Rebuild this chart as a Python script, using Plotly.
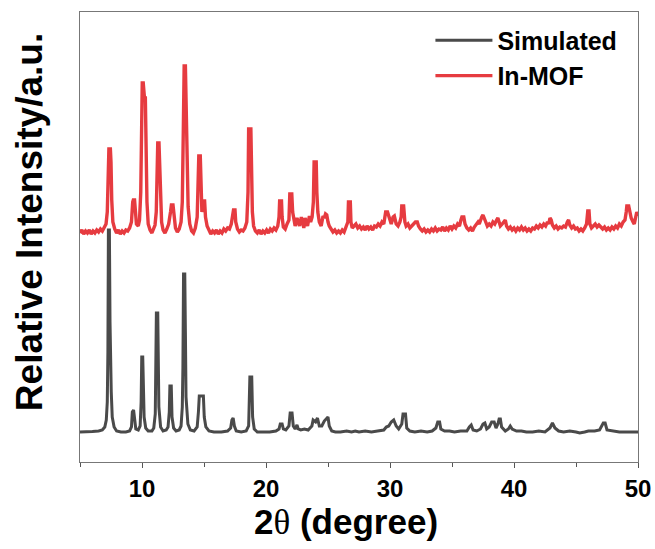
import plotly.graph_objects as go

# ---- data (2-theta in degrees, intensity in a.u. incl. vertical offset) ----
sim_points = [
    (5.0,30),(5.5,30),(6.0,30.5),(6.5,31),(6.8,32),(7.0,35),(7.12,42),(7.2,60),(7.25,110),(7.29,232),
    (7.37,232),(7.42,140),(7.47,98),(7.52,70),(7.6,45),(7.75,35),(7.95,31),(8.3,30),(8.7,30),(9.0,31),
    (9.15,35),(9.22,50),(9.32,52),(9.4,40),(9.5,33),(9.7,32),(9.85,36),(9.93,60),(9.98,105),(10.06,105),
    (10.1,70),(10.17,45),(10.3,34),(10.5,31),(10.8,31),(10.95,34),(11.07,48),(11.12,90),(11.16,149),(11.27,149),
    (11.3,100),(11.36,55),(11.5,35),(11.7,31),(11.95,32),(12.1,35),(12.2,50),(12.25,76),(12.36,76),(12.42,45),
    (12.55,34),(12.75,31),(13.0,32),(13.15,36),(13.25,55),(13.3,95),(13.35,188),(13.45,188),(13.5,130),(13.55,65),
    (13.7,38),(13.9,32),(14.2,31),(14.45,35),(14.55,50),(14.62,66),(14.95,66),(15.02,45),(15.15,35),(15.4,31),
    (15.8,30),(16.4,30),(16.9,31),(17.15,34),(17.25,42),(17.35,44),(17.45,36),(17.6,31),(18.0,30),(18.4,31),
    (18.6,36),(18.7,85),(18.85,85),(18.92,45),(19.05,33),(19.3,30),(19.8,30),(20.3,30),(20.8,31),(21.05,33),
    (21.15,38),(21.3,38),(21.4,33),(21.6,32),(21.85,36),(21.95,49),(22.1,49),(22.2,36),(22.35,33),(22.5,37),
    (22.6,33),(22.8,32),(23.1,33),(23.4,32),(23.7,36),(23.8,42),(24.0,40),(24.15,44),(24.3,36),(24.5,36),
    (24.7,41),(24.85,43),(25.0,45),(25.1,36),(25.3,31),(25.6,30),(26.0,30),(26.5,31),(26.9,30),(27.2,31),
    (27.5,30),(28.0,31),(28.5,30),(29.0,31),(29.5,32),(29.7,35),(29.9,36),(30.1,40),(30.3,42),(30.5,36),
    (30.7,33),(30.95,38),(31.05,48),(31.25,48),(31.35,34),(31.6,31),(32.0,30),(32.5,31),(33.0,30),(33.4,31),
    (33.7,34),(33.85,40),(34.0,40),(34.1,33),(34.4,31),(34.8,31),(35.2,30),(35.7,31),(36.2,31),(36.4,35),
    (36.55,37),(36.7,32),(37.0,31),(37.3,33),(37.5,38),(37.65,39),(37.8,33),(38.0,35),(38.2,40),(38.4,40),
    (38.55,34),(38.7,38),(38.8,43),(38.9,43),(39.0,35),(39.3,31),(39.55,33),(39.7,36),(39.85,33),(40.2,31),
    (40.6,31),(41.0,30),(41.5,30),(42.0,31),(42.5,30),(42.9,34),(43.1,39),(43.3,34),(43.6,31),(44.0,30),
    (44.5,31),(45.0,30),(45.3,29),(45.7,30),(46.0,31),(46.5,31),(46.9,32),(47.2,39),(47.35,39),(47.5,32),
    (48.0,31),(48.5,30),(49.0,30),(49.5,30),(50.0,30),
]

mof_points = [
    (5.0,229),(5.15,232),(5.3,228),(5.45,231),(5.6,229),(5.75,232),(5.9,228),(6.05,231),(6.2,229),(6.35,232),
    (6.5,230),(6.65,233),(6.8,231),(6.95,235),(7.1,238),(7.2,250),(7.28,300),(7.33,313),(7.45,313),(7.5,300),
    (7.56,262),(7.65,240),(7.8,233),(7.95,229),(8.1,232),(8.25,228),(8.4,231),(8.55,229),(8.7,232),(8.85,231),
    (9.0,234),(9.15,240),(9.25,260),(9.3,262),(9.4,262),(9.45,250),(9.55,238),(9.7,236),(9.8,242),(9.9,270),
    (9.97,350),(10.02,379),(10.1,379),(10.14,370),(10.2,364),(10.27,364),(10.32,320),(10.4,260),(10.5,238),(10.65,232),
    (10.8,229),(10.95,233),(11.05,237),(11.15,250),(11.22,300),(11.27,319),(11.37,319),(11.42,300),(11.5,265),(11.58,240),
    (11.7,232),(11.85,229),(12.0,233),(12.15,238),(12.3,250),(12.37,257),(12.5,257),(12.58,245),(12.7,234),(12.85,230),
    (13.0,233),(13.15,240),(13.25,260),(13.33,330),(13.4,396),(13.5,396),(13.55,360),(13.62,300),(13.72,255),(13.85,238),
    (14.0,231),(14.15,229),(14.3,234),(14.45,245),(14.53,290),(14.58,306),(14.7,306),(14.76,270),(14.83,250),(14.9,255),
    (14.97,261),(15.05,261),(15.12,245),(15.25,236),(15.4,231),(15.55,228),(15.7,231),(15.85,229),(16.0,232),(16.15,228),
    (16.3,231),(16.45,229),(16.6,233),(16.75,231),(16.9,234),(17.05,233),(17.2,238),(17.32,250),(17.38,252),(17.5,252),
    (17.56,240),(17.7,233),(17.85,230),(18.0,232),(18.15,231),(18.3,234),(18.45,240),(18.55,270),(18.6,333),(18.78,333),
    (18.83,300),(18.9,250),(19.0,236),(19.15,231),(19.3,229),(19.45,232),(19.6,228),(19.75,231),(19.9,229),(20.05,232),
    (20.2,229),(20.35,233),(20.5,231),(20.65,234),(20.8,232),(20.95,236),(21.05,245),(21.1,261),(21.25,261),(21.3,245),
    (21.4,235),(21.55,233),(21.7,238),(21.85,242),(21.92,268),(22.08,268),(22.15,250),(22.25,240),(22.35,236),(22.5,244),
    (22.6,240),(22.7,236),(22.85,245),(22.95,238),(23.05,234),(23.15,244),(23.25,240),(23.35,236),(23.5,246),(23.6,240),
    (23.72,245),(23.82,260),(23.88,300),(24.05,300),(24.1,270),(24.18,250),(24.3,240),(24.45,236),(24.6,246),(24.7,244),
    (24.8,248),(24.9,247),(25.0,240),(25.1,236),(25.25,233),(25.4,230),(25.55,232),(25.7,229),(25.85,231),(26.0,229),
    (26.15,232),(26.3,230),(26.45,235),(26.6,240),(26.65,260),(26.8,260),(26.85,240),(26.95,234),(27.1,236),(27.25,238),
    (27.4,234),(27.55,236),(27.7,233),(27.85,235),(28.0,232),(28.15,236),(28.3,233),(28.45,235),(28.6,232),(28.75,236),
    (28.9,235),(29.05,238),(29.2,236),(29.35,240),(29.5,238),(29.6,245),(29.65,250),(29.8,250),(29.9,246),(30.0,240),
    (30.1,238),(30.25,245),(30.35,246),(30.5,238),(30.65,236),(30.8,240),(30.9,245),(30.95,256),(31.1,256),(31.2,240),
    (31.3,236),(31.45,238),(31.6,234),(31.75,236),(31.9,238),(32.05,240),(32.2,240),(32.3,236),(32.45,233),(32.6,231),
    (32.75,233),(32.9,230),(33.05,232),(33.2,230),(33.35,233),(33.5,231),(33.65,234),(33.8,231),(33.95,233),(34.1,232),
    (34.25,235),(34.4,231),(34.55,234),(34.7,232),(34.85,236),(35.0,233),(35.15,236),(35.3,234),(35.45,238),(35.6,236),
    (35.72,242),(35.8,245),(35.95,245),(36.05,238),(36.2,234),(36.35,232),(36.5,234),(36.65,231),(36.8,235),(36.95,237),
    (37.1,240),(37.2,238),(37.3,243),(37.4,245),(37.5,247),(37.6,244),(37.7,240),(37.85,236),(38.0,238),(38.15,236),
    (38.3,240),(38.45,238),(38.6,242),(38.7,244),(38.8,240),(38.9,236),(39.05,238),(39.2,240),(39.3,242),(39.4,236),
    (39.55,233),(39.7,235),(39.85,232),(40.0,234),(40.15,231),(40.3,234),(40.45,232),(40.6,235),(40.75,232),(40.9,234),
    (41.05,231),(41.2,233),(41.35,231),(41.5,234),(41.65,233),(41.8,236),(41.95,234),(42.1,237),(42.25,235),(42.4,238),
    (42.55,236),(42.7,240),(42.8,238),(42.9,244),(43.0,242),(43.1,237),(43.25,234),(43.4,236),(43.55,233),(43.7,235),
    (43.85,234),(44.0,236),(44.15,235),(44.3,240),(44.4,242),(44.5,237),(44.65,234),(44.8,236),(44.95,233),(45.1,234),
    (45.25,231),(45.4,233),(45.55,231),(45.7,234),(45.85,238),(45.95,251),(46.05,251),(46.12,238),(46.25,234),(46.4,236),
    (46.55,238),(46.7,235),(46.85,237),(47.0,235),(47.15,233),(47.3,235),(47.45,232),(47.6,234),(47.75,232),(47.9,235),
    (48.05,233),(48.2,236),(48.35,234),(48.5,238),(48.65,236),(48.8,240),(48.95,242),(49.05,250),(49.1,256),(49.25,256),
    (49.35,248),(49.45,244),(49.6,240),(49.7,238),(49.8,244),(49.9,250),(50.0,246),
]

sim_two_theta = [p[0] for p in sim_points]
sim_intensity = [p[1] for p in sim_points]
mof_two_theta = [p[0] for p in mof_points]
mof_intensity = [p[1] for p in mof_points]

series_names = ["Simulated", "In-MOF"]
series_colors = ["#4a4a4a", "#e63b40"]
x_tick_values = [10, 20, 30, 40, 50]

FONT = "Liberation Sans, Arial, sans-serif"

fig = go.Figure()
fig.add_trace(go.Scatter(x=sim_two_theta, y=sim_intensity, mode="lines", name=series_names[0],
                         legendgroup="a", line=dict(color=series_colors[0], width=3)))
fig.add_trace(go.Scatter(x=mof_two_theta, y=mof_intensity, mode="lines", name=series_names[1],
                         legendgroup="b", line=dict(color=series_colors[1], width=3.4)))

fig.update_layout(
    width=655, height=549,
    margin=dict(l=80, r=17, t=12, b=87, autoexpand=False),
    paper_bgcolor="white", plot_bgcolor="white",
    font=dict(family=FONT, color="black"),
    showlegend=True,
    legend=dict(x=0.628, y=0.988, xanchor="left", yanchor="top",
                bgcolor="rgba(0,0,0,0)", borderwidth=0, itemwidth=57,
                traceorder="grouped", tracegroupgap=0,
                font=dict(family=FONT, size=25, color="black", weight="bold")),
    xaxis=dict(range=[5, 50], tickvals=x_tick_values, ticks="outside", ticklen=5, tickwidth=1.2,
               tickcolor="#555555", showline=True, linecolor="#777777", linewidth=1.3, mirror=True,
               showgrid=False, zeroline=False, automargin=False,
               minor=dict(dtick=5, tick0=5, ticks="outside", ticklen=4, tickcolor="#555555", tickwidth=1.2),
               tickfont=dict(family=FONT, size=24, color="black", weight="bold")),
    yaxis=dict(range=[0, 450], showticklabels=False, ticks="", showline=True, linecolor="#777777",
               linewidth=1.3, mirror=True, showgrid=False, zeroline=False, automargin=False),
    annotations=[
        dict(text="Relative Intensity/a.u.", xref="paper", yref="paper", x=-0.0914, y=0.533,
             xanchor="center", yanchor="middle", textangle=-90, showarrow=False,
             font=dict(family=FONT, size=37, color="black", weight="bold")),
        dict(text="2<span style=\"font-family:'Liberation Serif';font-weight:normal\">θ</span> (degree)",
             xref="paper", yref="paper", x=0.476, y=-0.133, xanchor="center", yanchor="middle",
             showarrow=False, font=dict(family=FONT, size=35, color="black", weight="bold")),
    ],
)

fig.write_html("out.html")
